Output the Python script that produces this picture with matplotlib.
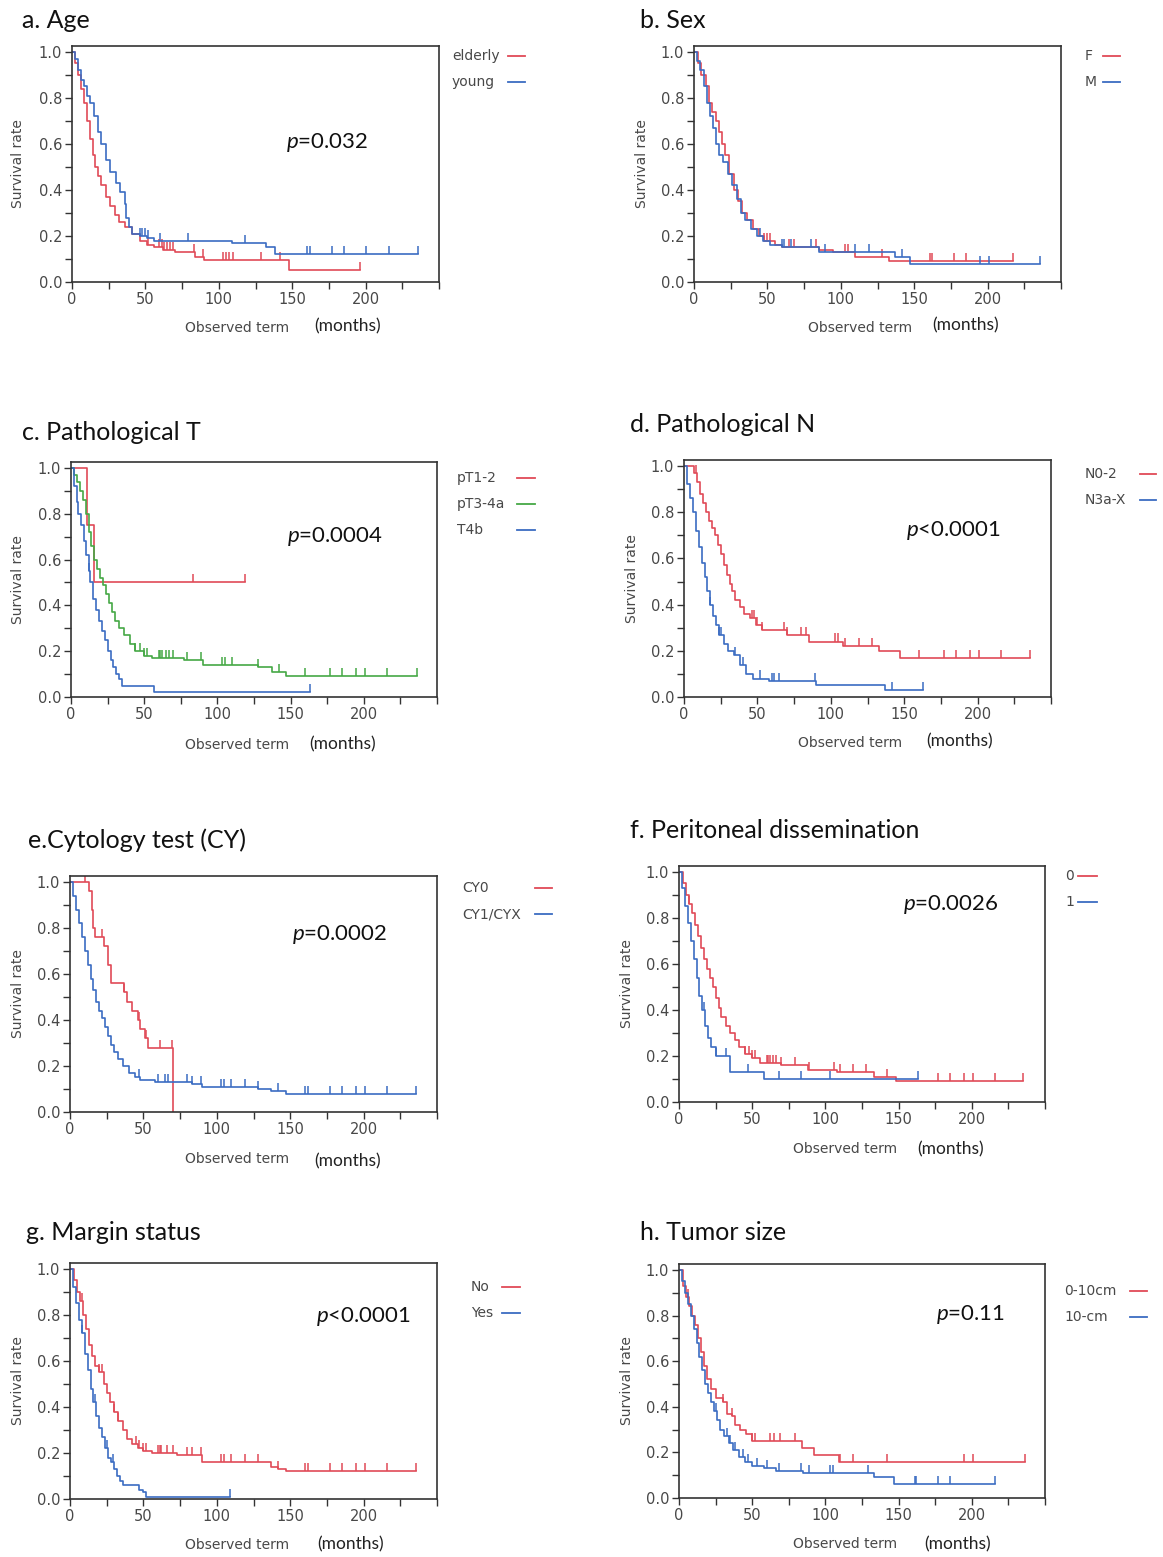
import matplotlib
matplotlib.use("Agg")
import matplotlib.pyplot as plt
from matplotlib.ticker import MultipleLocator

plt.rcParams['font.family'] = ['DejaVu Sans']
plt.rcParams['mathtext.fontset'] = 'custom'
plt.rcParams['mathtext.rm'] = 'Lato'
plt.rcParams['mathtext.it'] = 'Lato:italic'

W, H = 1163, 1557
RED = '#e04a57'
BLUE = '#3b6cc2'
GREEN = '#45a845'
GRAY = '#484848'

# ---- data: (time, survival after step), end of follow-up, censored times ----
# a. Age
a_elderly = [(0, 1.0), (2, 0.95), (4, 0.9), (6, 0.84), (8, 0.78), (10, 0.7), (12, 0.62), (14, 0.55),
             (16, 0.5), (18, 0.46), (20, 0.42), (23, 0.37), (26, 0.33), (29, 0.29), (32, 0.26),
             (36, 0.24), (41, 0.21), (46, 0.18), (51, 0.16), (56, 0.15), (62, 0.14), (70, 0.13),
             (84, 0.11), (90, 0.095), (148, 0.05)]
a_elderly_end = 196
a_elderly_cens = [52, 59, 61, 63, 65, 67, 69, 83, 89, 103, 105, 107, 110, 129, 142, 196]
a_young = [(0, 1.0), (2, 0.97), (4, 0.92), (6, 0.88), (8, 0.85), (10, 0.81), (12, 0.78), (15, 0.72),
           (18, 0.65), (20, 0.6), (23, 0.53), (26, 0.48), (30, 0.43), (33, 0.39), (36, 0.34),
           (37, 0.28), (39, 0.24), (41, 0.21), (46, 0.2), (51, 0.19), (56, 0.18), (109, 0.17),
           (132, 0.15), (138, 0.12)]
a_young_end = 236
a_young_cens = [46, 48, 50, 52, 60, 79, 118, 160, 162, 177, 185, 200, 216, 236]

# b. Sex
b_f = [(0, 1.0), (3, 0.95), (5, 0.9), (8, 0.85), (10, 0.78), (12, 0.74), (15, 0.7), (17, 0.65),
       (19, 0.6), (21, 0.55), (24, 0.47), (27, 0.4), (30, 0.35), (33, 0.3), (36, 0.27), (40, 0.23),
       (44, 0.2), (48, 0.18), (55, 0.16), (60, 0.15), (85, 0.14), (95, 0.13), (110, 0.11),
       (133, 0.09)]
b_f_end = 217
b_f_cens = [48, 50, 52, 65, 68, 83, 103, 105, 128, 161, 162, 177, 185, 217]
b_m = [(0, 1.0), (2, 0.96), (4, 0.92), (7, 0.85), (9, 0.78), (11, 0.72), (13, 0.67), (15, 0.6),
       (17, 0.55), (20, 0.52), (23, 0.47), (26, 0.42), (29, 0.36), (32, 0.3), (35, 0.27),
       (39, 0.23), (43, 0.2), (47, 0.18), (52, 0.16), (60, 0.15), (85, 0.13), (137, 0.11),
       (147, 0.08)]
b_m_end = 236
b_m_cens = [45, 60, 61, 66, 80, 89, 110, 119, 142, 195, 201, 236]

# c. Pathological T
c_t12 = [(0, 1.0), (11, 0.75), (16, 0.5)]
c_t12_end = 119
c_t12_cens = [83, 119]
c_t34a = [(0, 1.0), (2, 0.97), (4, 0.94), (6, 0.9), (8, 0.86), (10, 0.8), (12, 0.72), (14, 0.66),
          (16, 0.6), (18, 0.56), (20, 0.52), (22, 0.49), (24, 0.45), (26, 0.41), (28, 0.37),
          (30, 0.33), (33, 0.3), (36, 0.27), (40, 0.23), (44, 0.2), (50, 0.18), (55, 0.17),
          (77, 0.16), (90, 0.14), (128, 0.13), (137, 0.11), (147, 0.09)]
c_t34a_end = 236
c_t34a_cens = [44, 47, 50, 52, 60, 61, 62, 65, 67, 70, 79, 89, 103, 105, 110, 128, 142, 160, 177,
               185, 195, 201, 216, 236]
c_t4b = [(0, 1.0), (2, 0.92), (4, 0.85), (5, 0.8), (7, 0.75), (9, 0.68), (10, 0.62), (12, 0.55),
         (13, 0.5), (15, 0.43), (17, 0.38), (19, 0.33), (21, 0.29), (23, 0.25), (25, 0.2),
         (27, 0.16), (29, 0.13), (31, 0.1), (33, 0.08), (35, 0.05), (57, 0.02)]
c_t4b_end = 163
c_t4b_cens = [12, 163]

# d. Pathological N
d_n02 = [(0, 1.0), (7, 0.97), (9, 0.93), (11, 0.88), (13, 0.84), (15, 0.8), (17, 0.76), (19, 0.73),
         (21, 0.7), (23, 0.66), (25, 0.62), (27, 0.57), (29, 0.53), (31, 0.49), (33, 0.46),
         (35, 0.42), (38, 0.39), (41, 0.36), (45, 0.34), (49, 0.31), (53, 0.29), (70, 0.27),
         (85, 0.24), (108, 0.22), (133, 0.2), (147, 0.17)]
d_n02_end = 236
d_n02_cens = [8, 46, 48, 50, 53, 68, 70, 80, 83, 103, 105, 110, 119, 128, 160, 177, 185, 195, 201,
              216, 236]
d_n3x = [(0, 1.0), (2, 0.92), (4, 0.86), (6, 0.8), (8, 0.72), (10, 0.65), (12, 0.58), (14, 0.52),
         (16, 0.46), (18, 0.4), (20, 0.35), (22, 0.31), (24, 0.27), (27, 0.23), (30, 0.2),
         (34, 0.18), (38, 0.14), (42, 0.1), (47, 0.08), (58, 0.07), (90, 0.05), (137, 0.03)]
d_n3x_end = 163
d_n3x_cens = [18, 24, 25, 35, 40, 52, 60, 61, 65, 89, 142, 163]

# e. Cytology test
e_cy0 = [(0, 1.0), (13, 0.96), (15, 0.88), (16, 0.8), (17, 0.76), (23, 0.72), (26, 0.64),
         (28, 0.56), (37, 0.52), (39, 0.48), (42, 0.44), (46, 0.4), (48, 0.36), (51, 0.32),
         (53, 0.28), (70, 0.0)]
e_cy0_end = 70
e_cy0_cens = [10, 22, 37, 47, 52, 61, 69.6]
e_cy1 = [(0, 1.0), (2, 0.94), (4, 0.88), (6, 0.82), (8, 0.76), (10, 0.7), (12, 0.64), (14, 0.58),
         (16, 0.53), (18, 0.48), (20, 0.44), (22, 0.41), (24, 0.37), (26, 0.33), (28, 0.29),
         (30, 0.26), (33, 0.23), (36, 0.2), (40, 0.17), (44, 0.15), (48, 0.14), (58, 0.13),
         (83, 0.12), (90, 0.11), (128, 0.1), (137, 0.09), (147, 0.08)]
e_cy1_end = 236
e_cy1_cens = [47, 60, 65, 67, 80, 83, 89, 103, 105, 110, 119, 128, 142, 160, 162, 177, 185, 195,
              201, 216, 236]

# f. Peritoneal dissemination
f_p0 = [(0, 1.0), (3, 0.95), (5, 0.9), (7, 0.86), (9, 0.82), (11, 0.77), (13, 0.72), (15, 0.67),
        (17, 0.62), (19, 0.58), (21, 0.54), (23, 0.5), (25, 0.45), (27, 0.41), (29, 0.37),
        (32, 0.33), (35, 0.3), (38, 0.27), (41, 0.24), (45, 0.21), (50, 0.19), (55, 0.17),
        (70, 0.16), (88, 0.14), (108, 0.13), (133, 0.11), (148, 0.09)]
f_p0_end = 235
f_p0_cens = [7, 45, 48, 50, 52, 60, 61, 62, 64, 66, 70, 79, 89, 106, 110, 119, 128, 142, 177, 185,
             195, 201, 216, 235]
f_p1 = [(0, 1.0), (2, 0.93), (4, 0.85), (6, 0.78), (8, 0.7), (10, 0.62), (12, 0.54), (14, 0.46),
        (16, 0.4), (18, 0.33), (20, 0.28), (22, 0.24), (25, 0.2), (35, 0.13), (58, 0.1)]
f_p1_end = 163
f_p1_cens = [17, 25, 32, 47, 68, 83, 103, 163]

# g. Margin status
g_no = [(0, 1.0), (3, 0.95), (5, 0.9), (7, 0.86), (9, 0.8), (11, 0.74), (13, 0.67), (15, 0.62),
        (17, 0.58), (20, 0.55), (23, 0.5), (25, 0.46), (27, 0.42), (30, 0.38), (33, 0.34),
        (36, 0.3), (39, 0.26), (42, 0.24), (46, 0.22), (50, 0.21), (56, 0.2), (73, 0.19),
        (90, 0.16), (137, 0.14), (142, 0.13), (147, 0.12)]
g_no_end = 236
g_no_cens = [8, 20, 22, 30, 33, 45, 47, 50, 52, 60, 61, 62, 66, 70, 80, 83, 89, 103, 105, 110, 119,
             128, 142, 160, 162, 177, 185, 195, 201, 216, 236]
g_yes = [(0, 1.0), (2, 0.92), (4, 0.85), (6, 0.78), (8, 0.72), (10, 0.63), (12, 0.56), (14, 0.48),
         (16, 0.42), (18, 0.36), (20, 0.31), (22, 0.27), (24, 0.22), (26, 0.18), (28, 0.16),
         (30, 0.13), (32, 0.1), (34, 0.08), (36, 0.06), (47, 0.04), (50, 0.03), (52, 0.01)]
g_yes_end = 109
g_yes_cens = [8, 17, 25, 29, 109]

# h. Tumor size
h_small = [(0, 1.0), (3, 0.93), (5, 0.88), (7, 0.84), (9, 0.8), (11, 0.76), (13, 0.7), (15, 0.64),
           (17, 0.58), (19, 0.52), (22, 0.48), (25, 0.44), (30, 0.42), (33, 0.37), (36, 0.36),
           (38, 0.32), (42, 0.3), (46, 0.28), (50, 0.25), (84, 0.22), (92, 0.19), (109, 0.16)]
h_small_end = 236
h_small_cens = [6, 30, 36, 50, 52, 62, 65, 69, 79, 110, 119, 142, 195, 201, 236]
h_large = [(0, 1.0), (2, 0.95), (4, 0.9), (6, 0.85), (8, 0.8), (10, 0.74), (12, 0.68), (14, 0.62),
           (16, 0.56), (18, 0.5), (20, 0.46), (22, 0.42), (24, 0.38), (26, 0.34), (28, 0.3),
           (31, 0.27), (34, 0.24), (37, 0.21), (41, 0.18), (45, 0.16), (50, 0.14), (58, 0.13),
           (66, 0.12), (85, 0.11), (133, 0.09), (147, 0.06)]
h_large_end = 216
h_large_cens = [25, 33, 35, 38, 44, 47, 53, 60, 68, 83, 89, 103, 105, 129, 161, 162, 177, 185, 216]

titles = ["a. Age", "b. Sex", "c. Pathological T", "d. Pathological N", "e.Cytology test (CY)",
          "f. Peritoneal dissemination", "g. Margin status", "h. Tumor size"]
pvalues = ["$\\mathit{p}$=0.032", None, "$\\mathit{p}$=0.0004", "$\\mathit{p}$<0.0001",
           "$\\mathit{p}$=0.0002", "$\\mathit{p}$=0.0026", "$\\mathit{p}$<0.0001", "$\\mathit{p}$=0.11"]

series = [
    [("elderly", RED, a_elderly, a_elderly_end, a_elderly_cens),
     ("young", BLUE, a_young, a_young_end, a_young_cens)],
    [("F", RED, b_f, b_f_end, b_f_cens),
     ("M", BLUE, b_m, b_m_end, b_m_cens)],
    [("pT1-2", RED, c_t12, c_t12_end, c_t12_cens),
     ("pT3-4a", GREEN, c_t34a, c_t34a_end, c_t34a_cens),
     ("T4b", BLUE, c_t4b, c_t4b_end, c_t4b_cens)],
    [("N0-2", RED, d_n02, d_n02_end, d_n02_cens),
     ("N3a-X", BLUE, d_n3x, d_n3x_end, d_n3x_cens)],
    [("CY0", RED, e_cy0, e_cy0_end, e_cy0_cens),
     ("CY1/CYX", BLUE, e_cy1, e_cy1_end, e_cy1_cens)],
    [("0", RED, f_p0, f_p0_end, f_p0_cens),
     ("1", BLUE, f_p1, f_p1_end, f_p1_cens)],
    [("No", RED, g_no, g_no_end, g_no_cens),
     ("Yes", BLUE, g_yes, g_yes_end, g_yes_cens)],
    [("0-10cm", RED, h_small, h_small_end, h_small_cens),
     ("10-cm", BLUE, h_large, h_large_end, h_large_cens)],
]

# ---- layout in pixels ----
# axes box: left, right, top, bottom
boxes = [(72, 439, 46, 282), (694, 1061, 46, 282),
         (71, 437, 462, 697), (684, 1051, 460, 697),
         (70, 437, 876, 1112), (679, 1045, 866, 1102),
         (70, 437, 1263, 1499), (679, 1045, 1264, 1498)]
title_pos = [(22, 20), (640, 20), (22, 432), (630, 425), (28, 840), (630, 830), (26, 1232), (640, 1232)]
pval_pos = [(327, 143), None, (335, 537), (953, 530), (340, 934), (951, 904), (363, 1317), (970, 1315)]
obs_pos = [(237, 328), (860, 328), (237, 745), (850, 743), (237, 1159), (845, 1149), (237, 1545), (845, 1544)]
mon_pos = [(348, 326), (966, 325), (343, 744), (960, 741), (348, 1161), (951, 1149), (351, 1544), (958, 1544)]
ylab_x = [18, 642, 18, 632, 18, 627, 18, 627]
# legend: label x, line x0, line x1, first y
leg_pos = [(452, 508, 525, 56), (1085, 1103, 1120, 56), (457, 517, 535, 478), (1085, 1140, 1156, 474),
           (462, 535, 552, 888), (1065, 1078, 1097, 876), (471, 502, 520, 1287), (1064, 1130, 1147, 1291)]
leg_gap = 26


def fx(x):
    return x / W


def fy(y):
    return 1 - y / H


def surv_at(steps, t):
    s = steps[0][1]
    for tt, v in steps:
        if tt <= t:
            s = v
    return s


fig = plt.figure(figsize=(W / 100, H / 100), dpi=100)

for i in range(8):
    l, r, t, b = boxes[i]
    ax = fig.add_axes([fx(l), fy(b), (r - l) / W, (b - t) / H])
    for name, col, steps, end, cens in series[i]:
        xs = [p[0] for p in steps] + [end]
        ys = [p[1] for p in steps] + [steps[-1][1]]
        ax.step(xs, ys, where='post', color=col, lw=1.2)
        for c in cens:
            s = surv_at(steps, c)
            ax.vlines(c, s, s + 0.035, color=col, lw=1.1)
    ax.set_xlim(0, 250)
    ax.set_ylim(0, 1.026)
    ax.xaxis.set_minor_locator(MultipleLocator(25))
    ax.yaxis.set_minor_locator(MultipleLocator(0.1))
    ax.set_xticks([0, 50, 100, 150, 200])
    ax.set_yticks([0, 0.2, 0.4, 0.6, 0.8, 1.0])
    ax.set_yticklabels(["0.0", "0.2", "0.4", "0.6", "0.8", "1.0"])
    ax.tick_params(which='both', direction='out', length=5, width=1.0, color='#333333',
                   labelsize=10.5, labelcolor=GRAY, pad=2)
    for sp in ax.spines.values():
        sp.set_color('#333333')
        sp.set_linewidth(1.2)

    fig.text(fx(title_pos[i][0]), fy(title_pos[i][1]), titles[i], family='Lato', fontsize=18,
             ha='left', va='center', color='#111111')
    if pvalues[i]:
        fig.text(fx(pval_pos[i][0]), fy(pval_pos[i][1]), pvalues[i], family='Lato', fontsize=16,
                 ha='center', va='center', color='#111111')
    fig.text(fx(obs_pos[i][0]), fy(obs_pos[i][1]), "Observed term", fontsize=10, color=GRAY,
             ha='center', va='center')
    fig.text(fx(mon_pos[i][0]), fy(mon_pos[i][1]), "(months)", family='Lato', fontsize=12.5,
             color='#222222', ha='center', va='center')
    fig.text(fx(ylab_x[i]), (fy(t) + fy(b)) / 2, "Survival rate", fontsize=10, color=GRAY,
             rotation=90, ha='center', va='center')

    lx, x0, x1, y0 = leg_pos[i]
    for k, (name, col, steps, end, cens) in enumerate(series[i]):
        yy = y0 + k * leg_gap
        fig.text(fx(lx), fy(yy), name, fontsize=10, color=GRAY, ha='left', va='center')
        fig.add_artist(plt.Line2D([fx(x0), fx(x1)], [fy(yy), fy(yy)], color=col, lw=1.3,
                                  transform=fig.transFigure))

fig.savefig("out.png", dpi=100)
